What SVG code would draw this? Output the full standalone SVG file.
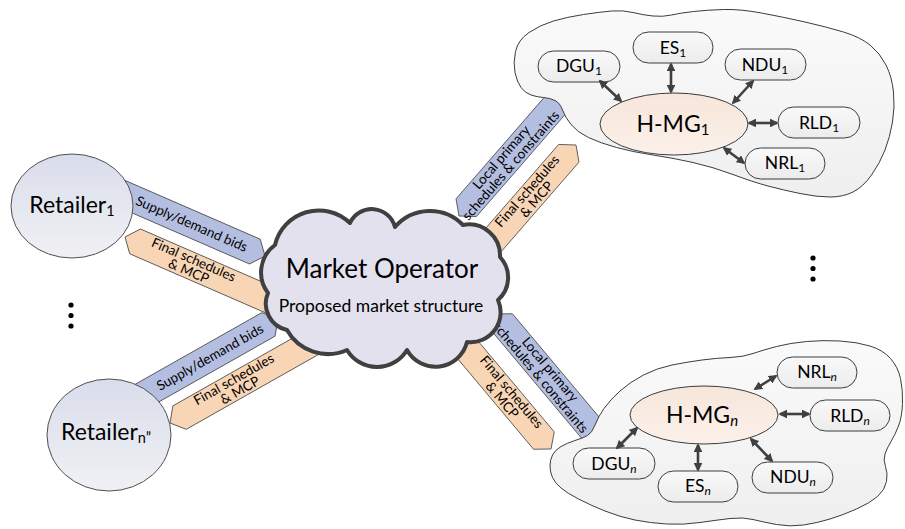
<svg xmlns="http://www.w3.org/2000/svg" width="905" height="529" viewBox="0 0 905 529">
<style>
text{font-family:Lato,"Liberation Sans",sans-serif;fill:#000}
.blue{fill:#b4bee0;stroke:#4a4a4a;stroke-width:0.8}
.orange{fill:#f8d5b5;stroke:#4a4a4a;stroke-width:0.8}
.bt{font-size:13.5px;text-anchor:middle}
.ret{fill:url(#gRet);stroke:#505050;stroke-width:1}
.cloud{fill:url(#gCloud);stroke:#3c3c3c;stroke-width:1}
.node{fill:url(#gNode);stroke:#3c3c3c;stroke-width:1}
.nt{font-size:17.5px;text-anchor:middle}
.hmg{fill:url(#gHmg);stroke:#3c3c3c;stroke-width:1}
.ht{font-size:23px;text-anchor:middle}
.conn line{stroke:#404040;stroke-width:2.6;marker-start:url(#ah);marker-end:url(#ah)}
.dot{fill:#000}
</style>
<defs>
<linearGradient id="gRet" x1="0" y1="0" x2="0" y2="1"><stop offset="0" stop-color="#d9ddeb"/><stop offset="1" stop-color="#f1f1f4"/></linearGradient>
<linearGradient id="gCloud" x1="0" y1="0" x2="0" y2="1"><stop offset="0" stop-color="#fafafa"/><stop offset="1" stop-color="#efefef"/></linearGradient>
<linearGradient id="gNode" x1="0" y1="0" x2="0" y2="1"><stop offset="0" stop-color="#f9f9f9"/><stop offset="1" stop-color="#ececec"/></linearGradient>
<linearGradient id="gHmg" x1="0" y1="0" x2="0" y2="1"><stop offset="0" stop-color="#f7e6da"/><stop offset="1" stop-color="#fbf1ea"/></linearGradient>
<marker id="ah" viewBox="0 0 10 10" refX="8" refY="5" markerWidth="3.4" markerHeight="3.4" orient="auto-start-reverse" markerUnits="strokeWidth"><path d="M0,0 L10,5 L0,10 z" fill="#404040"/></marker>
</defs>

<g id="bands">
  <g id="band-supply-1" transform="translate(265,256) rotate(23.5)">
    <path class="blue" d="M0,0 L-11,-13.5 L-170,-13.5 L-170,13.5 L-11,13.5 Z"/>
    <text class="bt" x="-80" y="4.5">Supply/demand bids</text>
  </g>
  <g id="band-final-1" transform="translate(125,237) rotate(23.5)">
    <path class="orange" d="M0,0 L11,-13.5 L200,-13.5 L200,13.5 L11,13.5 Z"/>
    <text class="bt" x="72" y="-2">Final schedules</text>
    <text class="bt" x="72" y="10.5">&amp; MCP</text>
  </g>
  <g id="band-supply-n" transform="translate(278,319) rotate(-29.5)">
    <path class="blue" d="M0,0 L-11,-13.5 L-190,-13.5 L-190,13.5 L-11,13.5 Z"/>
    <text class="bt" x="-78" y="4.5">Supply/demand bids</text>
  </g>
  <g id="band-final-n" transform="translate(170,423) rotate(-29.5)">
    <path class="orange" d="M0,0 L11,-13.5 L200,-13.5 L200,13.5 L11,13.5 Z"/>
    <text class="bt" x="77" y="-2">Final schedules</text>
    <text class="bt" x="77" y="10.5">&amp; MCP</text>
  </g>
  <g id="band-local-1" transform="translate(459,216) rotate(-49)">
    <path class="blue" d="M0,0 L11,-13.5 L167,-13.5 L167,13.5 L11,13.5 Z"/>
    <text class="bt" x="72" y="-2">Local primary</text>
    <text class="bt" x="72" y="10.5">schedules &amp; constraints</text>
  </g>
  <g id="band-final-h1" transform="translate(576,145) rotate(-49)">
    <path class="orange" d="M0,0 L-11,-13.5 L-180,-13.5 L-180,13.5 L-11,13.5 Z"/>
    <text class="bt" x="-67" y="-2">Final schedules</text>
    <text class="bt" x="-67" y="10.5">&amp; MCP</text>
  </g>
  <g id="band-local-n" transform="translate(495,314) rotate(50)">
    <path class="blue" d="M0,0 L11,-13.5 L170,-13.5 L170,13.5 L11,13.5 Z"/>
    <text class="bt" x="78" y="-2">Local primary</text>
    <text class="bt" x="78" y="10.5">schedules &amp; constraints</text>
  </g>
  <g id="band-final-hn" transform="translate(551,449) rotate(50)">
    <path class="orange" d="M0,0 L-11,-13.5 L-190,-13.5 L-190,13.5 L-11,13.5 Z"/>
    <text class="bt" x="-69" y="-2">Final schedules</text>
    <text class="bt" x="-69" y="10.5">&amp; MCP</text>
  </g>
</g>

<g id="retailer-1">
  <ellipse class="ret" cx="72" cy="206" rx="61" ry="52"/>
  <text x="72" y="213" font-size="23" text-anchor="middle">Retailer<tspan font-size="14.5" dy="3">1</tspan></text>
</g>
<g id="retailer-n">
  <ellipse class="ret" cx="109" cy="435" rx="62" ry="56"/>
  <text x="106" y="440" font-size="23" text-anchor="middle">Retailer<tspan font-size="14.5" dy="3">n”</tspan></text>
</g>

<g id="market-operator">
  <path fill="#e4e1ef" stroke="#404040" stroke-width="4" stroke-linejoin="round" d="M275,245 A45,45 0 0 1 350,223 A24,24 0 0 1 395,227 A46,46 0 0 1 463,225 A31,31 0 0 1 500,257 A30,30 0 0 1 498,300 A30,30 0 0 1 467,342 A32.5,32.5 0 0 1 407,350 A35,35 0 0 1 347,350 A47,47 0 0 1 287,330 A27,27 0 0 1 268,293 A34,34 0 0 1 275,245 Z"/>
  <text x="382" y="278" font-size="26" text-anchor="middle">Market Operator</text>
  <text x="381" y="312" font-size="17.5" text-anchor="middle">Proposed market structure</text>
</g>

<g id="hmg-1-area">
  <path class="cloud" d="M515,72.5 Q513,63 515.5,51.5 Q518,40 529,32.5 Q540,25 553.5,21 Q567,17 583.5,14.5 Q600,12 611.5,11 Q623,10 633,12.5 Q643,15 653,16 Q663,17 671.5,15 Q680,13 693.5,11.5 Q707,10 723.5,9.5 Q740,9 761.5,13 Q783,17 805,22 Q827,27 843.5,32 Q860,37 870,45 Q880,53 886,65 Q892,77 893.5,92 Q895,107 892.5,122 Q890,137 885,150 Q880,163 871.5,175 Q863,187 853,192 Q843,197 830,197 Q817,197 800,193.5 Q783,190 768,186 Q753,182 733,174.5 Q713,167 693,162.5 Q673,158 653,155 Q633,152 616.5,147.5 Q600,143 588.5,137.5 Q577,132 571,124.5 Q565,117 562.5,110 Q560,103 555,100.5 Q550,98 543.5,97.5 Q537,97 531,95 Q525,93 521,87.5 Q517,82 515,72.5 Z"/>
</g>
<g id="hmg-n-area">
  <path class="cloud" d="M550,466 Q550,460 552.5,455 Q555,450 561,446.5 Q567,443 575,440.5 Q583,438 587.5,435.5 Q592,433 595,425 Q598,417 604,408.5 Q610,400 620,391 Q630,382 643.5,375 Q657,368 672,365 Q687,362 702,360 Q717,358 730,357.5 Q743,357 753,353.5 Q763,350 776.5,346.5 Q790,343 806.5,341.5 Q823,340 840,341 Q857,342 870,346 Q883,350 890.5,358.5 Q898,367 900.5,378.5 Q903,390 902.5,403.5 Q902,417 898.5,426 Q895,435 891,441.5 Q887,448 885,454 Q883,460 885.5,466.5 Q888,473 886.5,481.5 Q885,490 877.5,496.5 Q870,503 856.5,509 Q843,515 830,519 Q817,523 803.5,525 Q790,527 776.5,524.5 Q763,522 753,519.5 Q743,517 730,518.5 Q717,520 700,522.5 Q683,525 666.5,524 Q650,523 635,520 Q620,517 605,511 Q590,505 578.5,499 Q567,493 561,488 Q555,483 552.5,477.5 Q550,472 550,466 Z"/>
</g>

<g id="hmg-1"><ellipse class="hmg" cx="674" cy="124" rx="74" ry="31"/><text class="ht" x="673" y="132">H-MG<tspan font-size="15" dy="3">1</tspan></text></g>
<g id="dgu-1"><rect class="node" x="538" y="51" width="82" height="31" rx="15.5"/><text class="nt" x="579" y="72">DGU<tspan font-size="12" dy="3">1</tspan></text></g>
<g id="es-1"><rect class="node" x="633" y="32" width="80" height="31" rx="15.5"/><text class="nt" x="673" y="54">ES<tspan font-size="12" dy="3">1</tspan></text></g>
<g id="ndu-1"><rect class="node" x="725" y="49" width="81" height="31" rx="15.5"/><text class="nt" x="765" y="71">NDU<tspan font-size="12" dy="3">1</tspan></text></g>
<g id="rld-1"><rect class="node" x="778" y="107" width="82" height="31" rx="15.5"/><text class="nt" x="819" y="129">RLD<tspan font-size="12" dy="3">1</tspan></text></g>
<g id="nrl-1"><rect class="node" x="745" y="148" width="80" height="31" rx="15.5"/><text class="nt" x="785" y="169">NRL<tspan font-size="12" dy="3">1</tspan></text></g>

<g id="hmg-n"><ellipse class="hmg" cx="704" cy="415" rx="74" ry="29"/><text class="ht" x="702" y="423">H-MG<tspan font-size="15" dy="3" font-style="italic">n</tspan></text></g>
<g id="nrl-n"><rect class="node" x="777" y="357" width="80" height="31" rx="15.5"/><text class="nt" x="817" y="378">NRL<tspan font-size="12" dy="3" font-style="italic">n</tspan></text></g>
<g id="rld-n"><rect class="node" x="810" y="400" width="80" height="31" rx="15.5"/><text class="nt" x="850" y="422">RLD<tspan font-size="12" dy="3" font-style="italic">n</tspan></text></g>
<g id="dgu-n"><rect class="node" x="573" y="448" width="82" height="31" rx="15.5"/><text class="nt" x="614" y="470">DGU<tspan font-size="12" dy="3" font-style="italic">n</tspan></text></g>
<g id="es-n"><rect class="node" x="658" y="471" width="80" height="31" rx="15.5"/><text class="nt" x="698" y="492">ES<tspan font-size="12" dy="3" font-style="italic">n</tspan></text></g>
<g id="ndu-n"><rect class="node" x="752" y="462" width="81" height="31" rx="15.5"/><text class="nt" x="793" y="483">NDU<tspan font-size="12" dy="3" font-style="italic">n</tspan></text></g>

<g id="connectors" class="conn">
  <line x1="600" y1="81" x2="621" y2="101"/>
  <line x1="671" y1="64" x2="671" y2="92"/>
  <line x1="753" y1="81" x2="733" y2="103"/>
  <line x1="749" y1="123" x2="777" y2="123"/>
  <line x1="724" y1="148" x2="744" y2="163"/>
  <line x1="776" y1="376" x2="755" y2="389"/>
  <line x1="780" y1="414" x2="809" y2="414"/>
  <line x1="617" y1="448" x2="637" y2="428"/>
  <line x1="698" y1="445" x2="698" y2="470"/>
  <line x1="751" y1="439" x2="772" y2="461"/>
</g>

<g id="ellipsis-left">
  <circle class="dot" cx="71" cy="305" r="2.6"/><circle class="dot" cx="71" cy="315.5" r="2.6"/><circle class="dot" cx="71" cy="326" r="2.6"/>
</g>
<g id="ellipsis-right">
  <circle class="dot" cx="813" cy="258" r="2.6"/><circle class="dot" cx="813" cy="268.5" r="2.6"/><circle class="dot" cx="813" cy="279" r="2.6"/>
</g>
</svg>
